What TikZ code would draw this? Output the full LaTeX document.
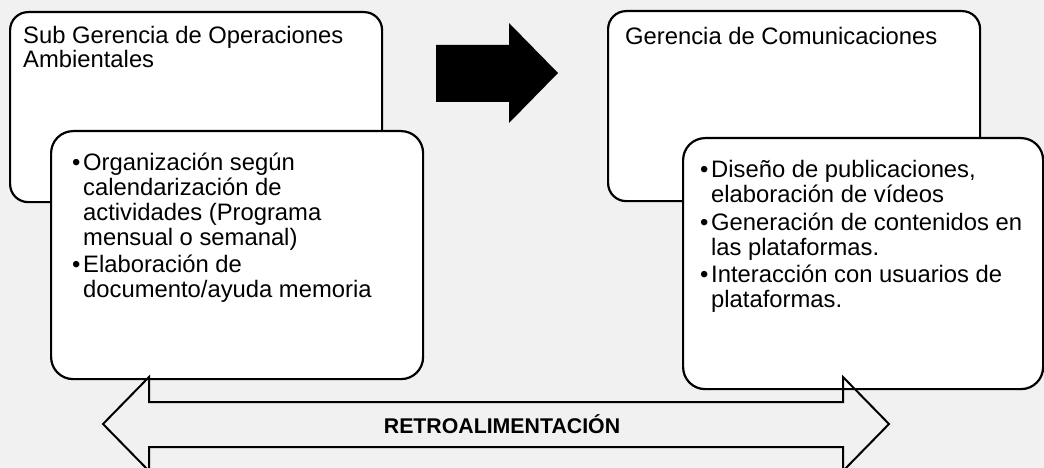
\documentclass[tikz,border=0pt]{standalone}
\usepackage{fontspec}
\setmainfont{Liberation Sans}
\begin{document}
\begin{tikzpicture}[x=1pt,y=-1pt,
  box/.style={draw=black,line width=2.2pt,fill=white,rounded corners=#1,inner sep=0pt,anchor=north west},
  txt/.style={anchor=base west,inner sep=0pt,font=\fontsize{23.8}{25}\selectfont},
  bul/.style={anchor=base west,inner sep=0pt,font=\fontsize{23.8}{25}\selectfont},
  lbl/.style={anchor=center,inner sep=0pt,font=\fontsize{21.3}{24}\selectfont\bfseries}]
\definecolor{bgc}{HTML}{F1F1F1}
\fill[bgc] (0,0) rectangle (1044,468);
\useasboundingbox (0,0) rectangle (1044,468);
% left boxes
\node[box=18pt,minimum width=372pt,minimum height=190pt] (lo) at (9,11) {};
\node[txt] (lt1) at (23,44) {Sub Gerencia de Operaciones};
\node[txt] (lt2) at (23,68) {Ambientales};
\node[box=22pt,minimum width=372pt,minimum height=248pt] (li) at (50,130) {};
\node[bul] (lb1) at (72,170) {•};
\node[txt] (la1) at (83,170) {Organización según};
\node[txt] (la2) at (83,195) {calendarización de};
\node[txt] (la3) at (83,220) {actividades (Programa};
\node[txt] (la4) at (83,245) {mensual o semanal)};
\node[bul] (lb2) at (72,272) {•};
\node[txt] (la5) at (83,272) {Elaboración de};
\node[txt] (la6) at (83,297) {documento/ayuda memoria};
% right boxes
\node[box=18pt,minimum width=372pt,minimum height=190pt] (ro) at (607,10) {};
\node[txt] (rt1) at (625,45) {Gerencia de Comunicaciones};
\node[box=22pt,minimum width=360pt,minimum height=251pt] (ri) at (682,137) {};
\node[bul] (rb1) at (700,177) {•};
\node[txt] (ra1) at (711,177) {Diseño de publicaciones,};
\node[txt] (ra2) at (711,202) {elaboración de vídeos};
\node[bul] (rb2) at (700,230) {•};
\node[txt] (ra3) at (711,230) {Generación de contenidos en};
\node[txt] (ra4) at (711,255) {las plataformas.};
\node[bul] (rb3) at (700,282) {•};
\node[txt] (ra5) at (711,282) {Interacción con usuarios de};
\node[txt] (ra6) at (711,307) {plataformas.};
% black arrow
\fill[black] (436,45) -- (509,45) -- (509,23) -- (558,73) -- (509,123) -- (509,102) -- (436,102) -- cycle;
% double arrow
\draw[line width=2pt,line join=miter] (103,424) -- (149,377) -- (149,402) -- (843,402) -- (843,377) -- (889,424) -- (843,471) -- (843,447) -- (149,447) -- (149,471) -- cycle;
\node[lbl] (fb) at (502,424) {RETROALIMENTACIÓN};
\end{tikzpicture}
\end{document}
